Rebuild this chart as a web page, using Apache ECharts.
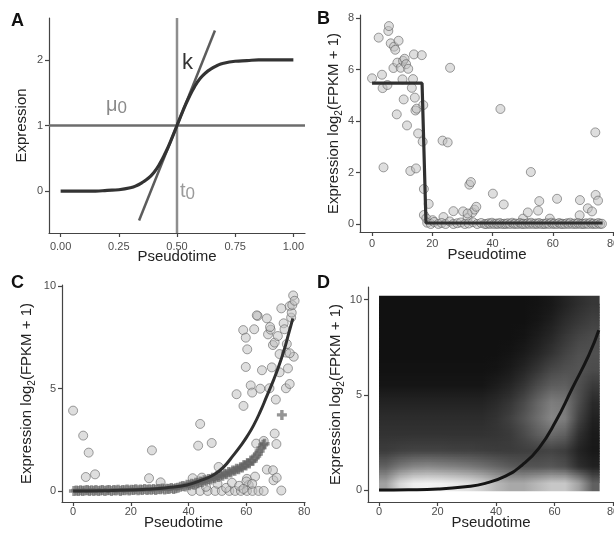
<!DOCTYPE html>
<html><head><meta charset="utf-8">
<script src="https://cdn.jsdelivr.net/npm/echarts@6/dist/echarts.min.js"></script>
<style>html,body{margin:0;padding:0;background:#fff}#c{width:614px;height:536px}</style>
</head><body><div id="c"></div>
<script>
// ---------- Panel A ----------
const aTicksX = [0, 0.25, 0.5, 0.75, 1];
const aTicksY = [0, 1, 2];
const aCurveX = [0,0.05,0.1,0.15,0.2,0.25,0.3,0.325,0.35,0.375,0.4,0.425,0.45,0.475,0.5,0.525,0.55,0.575,0.6,0.625,0.65,0.675,0.7,0.75,0.8,0.85,0.9,0.95,1];
const aCurveY = [0,0,0,0,0.01,0.02,0.05,0.08,0.13,0.19,0.28,0.41,0.58,0.78,1,1.22,1.42,1.59,1.72,1.81,1.87,1.92,1.95,1.98,1.99,2,2,2,2];
const aTangentX = [0.337, 0.663];
const aTangentY = [-0.45, 2.45];
const aMuX = [-0.05, 1.05];
const aMuY = [1, 1];
const aT0X = [0.5, 0.5];
const aT0Y = [-0.64, 2.64];

// ---------- Panel B ----------
const bTicksX = [0, 20, 40, 60, 80];
const bTicksY = [0, 2, 4, 6, 8];
const bX = [0,2.2,3.3,3.5,3.8,5.1,5.4,5.6,6.2,7.3,7.7,8.8,7.1,8.2,8.4,9.5,10.3,10.1,10.5,10.8,11.3,11.6,12,12.7,13.2,13.6,13.9,14.2,14.4,14.6,14.8,15.3,16.5,16.8,17,17.2,17.2,18.8,23.4,25.1,25.9,18,20.1,23.7,27,30.2,31.7,32.3,32.8,33.3,34,34.6,31.7,40.1,42.6,43.7,50.1,51.7,52.7,55.1,55.5,59,61.4,68.9,69,71.6,73,74.1,74.2,75,
  18.3,19.5,20.6,22.0,23.1,24.4,25.8,27.0,28.3,29.5,30.8,32.1,33.5,34.9,36.2,37.4,
  38.0,38.7,39.3,39.8,40.6,41.3,41.9,42.4,43.2,43.9,44.5,45.0,45.8,46.5,47.1,47.6,48.4,49.1,49.7,50.2,51.0,51.7,52.3,52.8,53.6,54.3,54.9,55.4,56.2,56.9,57.5,58.0,58.8,59.5,60.1,60.6,61.4,62.1,62.7,63.2,64.0,64.7,65.3,65.8,66.6,67.3,67.9,68.4,69.2,69.9,70.5,71.0,71.8,72.5,73.1,73.6,74.4,75.1,75.7,76.3];
const bY = [5.66,7.24,5.8,5.28,2.2,5.4,7.5,7.69,7.02,6.89,6.77,7.12,6.06,4.26,6.27,6.07,6.34,5.62,4.84,6.42,6.21,3.83,6.03,2.06,5.29,5.63,6.59,4.91,4.41,2.16,4.48,3.52,6.56,3.2,4.62,1.36,0.35,0.78,3.24,3.17,6.07,0.22,0.15,0.27,0.5,0.49,0.23,1.53,1.63,0.45,0.56,0.67,0.41,1.18,4.47,0.76,0.21,0.45,2.02,0.52,0.89,0.21,0.98,0.34,0.93,0.61,0.49,3.56,1.13,0.91,
  0.05,0,0.08,0,0.04,0,0.1,0,0.03,0.06,0,0.02,0.07,0,0.04,0,
  0,0.03,0,0.05,0,0.02,0,0.04,0,0.01,0,0.03,0,0.05,0,0.02,0,0.04,0,0.01,0,0.03,0,0.05,0,0.02,0,0.04,0,0.01,0,0.03,0,0.05,0,0.02,0,0.04,0,0.01,0,0.03,0,0.05,0,0.02,0,0.04,0,0.01,0,0.03,0,0.05,0,0.02,0,0.04,0,0.01];
const bStepX = [0, 16.6, 17.9, 76.5];
const bStepY = [5.47, 5.47, 0.04, 0.04];

// ---------- Panel C ----------
const cTicksX = [0, 20, 40, 60, 80];
const cTicksY = [0, 5, 10];
const cX = [0,3.5,5.4,4.4,7.6,27.3,26.3,30.3,44,43.3,48,41.4,44.6,50.4,56.6,58.9,59.8,60.3,59.8,59,61.5,62,62.7,63.9,65.4,64.8,67.1,67.5,68.4,68,68.8,69.2,69.8,69.8,70.4,70.2,70.9,71.5,72.1,72.9,73.2,73.8,74,74.4,73.7,75,75,75.5,75.7,75.9,76.2,76.7,76.4,75,71.5,67.1,69.2,69.4,70.5,72.1,60.2,60.8,63,60,63.4,66,
  41.2,44,46.6,49.2,51.5,54.1,56.1,58.1,60.2,62.1,64.2,66,42,46,50,53,55,57.5,59,62,68.2,63.6];
const cY = [3.92,2.7,1.87,0.68,0.81,1.98,0.62,0.42,3.27,2.21,2.34,0.62,0.65,1.17,4.72,7.85,7.48,6.91,6.05,4.15,5.15,4.8,7.89,8.54,5.89,4.99,8.42,7.64,7.87,5.01,6.03,7.12,7.24,2.8,2.29,4.46,7.56,6.68,8.91,8.18,7.89,6.75,7.17,5.98,5.01,5.22,9.02,8.46,8.7,9.07,9.54,9.28,6.55,6.72,5.79,1.04,1.01,0.52,0.65,0.02,0.59,0.29,0.7,0.46,2.31,2.44,
  0,0,0,0,0,0,0,0,0,0,0,0,0.3,0.2,0.35,0.15,0.4,0.25,0.1,0.35,8.0,8.57];
const cPlusX = [0.3,1.1,1.8,2.6,3.3,4.1,4.9,5.6,6.4,7.2,7.9,8.7,9.5,10.2,11.0,11.8,12.5,13.3,14.1,14.8,15.6,16.4,17.1,17.9,18.7,19.4,20.2,21.0,21.7,22.5,23.3,24.0,24.8,25.6,26.3,27.1,27.9,28.6,29.4,30.2,30.9,31.7,32.5,33.2,34.0,34.8,35.5,36.3,
  37.2,38.0,38.8,39.5,40.3,41.0,41.8,42.5,43.2,44.0,44.7,45.4,46.1,46.9,47.6,48.3,49.0,49.7,50.4,51.1,51.8,52.5,53.2,53.9,54.6,55.3,56.0,56.6,57.3,58.0,58.6,59.2,59.8,60.4,61.0,61.6,62.2,62.8,63.4,64.0,64.6,65.2,65.8,66.3,72.3];
const cPlusY = [0,0.02,0,0.03,0,0.02,0.04,0,0.03,0,0.05,0,0.02,0.04,0,0.03,0.05,0,0.04,0.02,0.06,0,0.05,0.03,0.07,0.02,0.06,0.04,0.08,0.03,0.07,0.05,0.09,0.04,0.08,0.06,0.1,0.05,0.09,0.08,0.12,0.07,0.11,0.1,0.14,0.09,0.13,0.16,
  0.2,0.24,0.22,0.3,0.28,0.35,0.33,0.4,0.38,0.46,0.44,0.52,0.5,0.58,0.56,0.64,0.62,0.7,0.68,0.76,0.74,0.84,0.82,0.92,0.9,1.0,0.98,1.08,1.06,1.16,1.14,1.26,1.24,1.36,1.34,1.48,1.46,1.6,1.7,1.8,1.95,2.1,2.25,2.3,3.71];
const cCurveX = [0,10,20,25.6,32.5,39.4,44,48.6,52,55.6,58,60.2,62.5,64.8,67,69.4,71,72.9,74.5,76.1];
const cCurveY = [0,0.01,0.04,0.08,0.16,0.29,0.5,0.78,1.15,1.76,2.2,2.65,3.2,3.87,4.6,5.41,6.0,6.8,7.6,8.42];

// ---------- Panel D ----------
const dTicksX = [0, 20, 40, 60, 80];
const dTicksY = [0, 5, 10];
const dCurveX = [0,10,20.3,29.5,36.3,43.2,48.9,54.6,60.3,66,71.7,75.1];
const dCurveY = [0,0.01,0.05,0.17,0.35,0.73,1.31,2.19,3.58,5.33,7.08,8.39];
// density grid: column centres (pseudotime), row centres (expression), extent
const dColX = [2.4,7.1,11.8,16.5,21.2,25.9,30.6,35.3,40.1,44.8,49.5,54.2,58.9,63.6,68.3,73.0];
const dRowY = [0.43,1.28,2.13,2.98,3.83,4.68,5.53,6.38,7.23,8.08,8.93,9.78];
const dExtentX = [0, 75.4];
const dExtentY = [0, 10.2];
// relative density (0 = black, 100 = white); rows listed from top (y = 9.78) to bottom (y = 0.43)
const dDensity = [
  [0,0,0,0,0,0,0,0,0,0,0,1,3,8,13,17],
  [0,0,0,0,0,0,0,0,0,0,0,2,6,12,17,21],
  [0,0,0,0,0,0,0,0,0,0,1.3,5,10,17,23,26],
  [0,0,0,0,0,0,0,0,0,1.3,4,9,15,22,28,28],
  [0.4,0.4,0.4,0.4,0.4,0.4,0.4,0.4,1.3,4,9,16,24,28,30,26],
  [2,2,2,2,2,2,2,2,5,9,16,26,34,35,28,18],
  [8,8,8,8,8,8,8,8,11,16,25,37,48,45,27,11],
  [12,12,12,12,12,12,12,12,15,21,30,41,52,48,22,7],
  [15,15,15,15,15,15,15,15,16,18,25,34,40,35,14,4],
  [19,21,22,22,22,21,21,20,19,19,20,21,22,19,8,3],
  [36,46,52,54,52,50,47,43,38,33,30,30,31,27,13,7],
  [64,88,98,100,99,96,92,85,74,67,67,74,81,81,64,35]
];

const FONT = 'Liberation Sans, Arial, Helvetica, sans-serif';
const zip = (xs, ys) => xs.map((x, i) => [x, ys[i]]);

function vAxis(grid, min, max, ticks, fmt, name, gap, margin) {
  return {
    gridIndex: grid, type: 'value', min: min, max: max,
    name: name, nameLocation: 'middle', nameGap: gap, nameMoveOverlap: false,
    nameTextStyle: name.indexOf('{') === 0 ? {
      rich: {
        a: {fontSize: 15, color: '#222', fontFamily: FONT, lineHeight: 20},
        s: {fontSize: 10, color: '#222', fontFamily: FONT, lineHeight: 10, verticalAlign: 'bottom'}
      }
    } : {fontSize: 15, color: '#222', fontFamily: FONT},
    axisLine: {show: true, onZero: false, lineStyle: {color: '#444', width: 1.2}},
    axisTick: {show: true, length: 4, customValues: ticks, lineStyle: {color: '#444', width: 1.2}},
    axisLabel: {customValues: ticks, formatter: fmt, color: '#4d4d4d', fontSize: 11, fontFamily: FONT, margin: margin},
    splitLine: {show: false}
  };
}
const yName = '{a|Expression log}{s|2}{a|(FPKM + 1)}';
const fmt2 = v => Number(v).toFixed(2);
const fmt0 = v => String(Math.round(v));

// density rows bottom-up for rendering
const densityUp = dDensity.slice().reverse();
const grayOf = v => { const g = Math.round(17 + Math.max(0, Math.min(100, v)) * 2.25); return 'rgb(' + g + ',' + g + ',' + g + ')'; };
function densityRender(params, api) {
  const r = api.value(2);
  const n = dRowY.length;
  const x0 = api.coord([dExtentX[0], dExtentY[0]])[0];
  const x1 = api.coord([dExtentX[1], dExtentY[0]])[0];
  const offs = dColX.map(x => (api.coord([x, dExtentY[0]])[0] - x0) / (x1 - x0));
  const stripe = (yLoData, yHiData, vals) => {
    const yb = api.coord([dExtentX[0], yLoData])[1];
    const yt = api.coord([dExtentX[0], yHiData])[1];
    return {
      type: 'rect', silent: true,
      shape: {x: x0, y: yt, width: x1 - x0, height: yb - yt + 1.2},
      style: {fill: new echarts.graphic.LinearGradient(x0, 0, x1, 0,
        vals.map((v, c) => ({offset: offs[c], color: grayOf(v)})), true)}
    };
  };
  const children = [];
  const rowA = densityUp[r];
  if (r === 0) children.push(stripe(dExtentY[0], dRowY[0], rowA));
  if (r < n - 1) {
    const rowB = densityUp[r + 1];
    const K = 10;
    for (let k = 0; k < K; k++) {
      const t = (k + 0.5) / K;
      const ya = dRowY[r] + (dRowY[r + 1] - dRowY[r]) * k / K;
      const yb = dRowY[r] + (dRowY[r + 1] - dRowY[r]) * (k + 1) / K;
      children.push(stripe(ya, yb, rowA.map((v, c) => v + (rowB[c] - v) * t)));
    }
  } else {
    children.push(stripe(dRowY[r], dExtentY[1], rowA));
  }
  return {type: 'group', children: children};
}

const circleStyle = {color: 'rgba(192,192,192,0.65)', borderColor: 'rgba(85,85,85,0.7)', borderWidth: 1};
const plusPath = 'path://M3.3,0H6.7V3.3H10V6.7H6.7V10H3.3V6.7H0V3.3H3.3Z';

const option = {
  animation: false,
  backgroundColor: '#fff',
  textStyle: {fontFamily: FONT},
  grid: [
    {left: 49, top: 18, width: 256, height: 215, outerBoundsMode: 'none', containLabel: false},
    {left: 360, top: 15, width: 254, height: 217, outerBoundsMode: 'none', containLabel: false},
    {left: 62, top: 285, width: 243, height: 217, outerBoundsMode: 'none', containLabel: false},
    {left: 368, top: 287, width: 246, height: 215, outerBoundsMode: 'none', containLabel: false}
  ],
  xAxis: [
    vAxis(0, -0.05, 1.05, aTicksX, fmt2, 'Pseudotime', 16, 8),
    vAxis(1, -4, 80.3, bTicksX, fmt0, 'Pseudotime', 15, 6),
    vAxis(2, -3.84, 80.3, cTicksX, fmt0, 'Pseudotime', 13, 4),
    vAxis(3, -3.77, 80.3, dTicksX, fmt0, 'Pseudotime', 13, 4)
  ],
  yAxis: [
    vAxis(0, -0.64, 2.64, aTicksY, fmt0, 'Expression', 20, 6),
    vAxis(1, -0.31, 8.12, bTicksY, fmt0, yName, 16, 6),
    vAxis(2, -0.54, 10.05, cTicksY, fmt0, yName, 25, 6),
    vAxis(3, -0.63, 10.66, dTicksY, fmt0, yName, 22, 6)
  ],
  series: [
    // D density
    {type: 'custom', xAxisIndex: 3, yAxisIndex: 3, renderItem: densityRender,
      data: dRowY.map((y, r) => [dExtentX[0], y, r]), silent: true, z: 1},
    // A
    {type: 'line', xAxisIndex: 0, yAxisIndex: 0, data: zip(aMuX, aMuY), symbol: 'none',
      lineStyle: {color: '#6c6c6c', width: 2.5}},
    {type: 'line', xAxisIndex: 0, yAxisIndex: 0, data: zip(aT0X, aT0Y), symbol: 'none',
      lineStyle: {color: '#8e8e8e', width: 2.5}},
    {type: 'line', xAxisIndex: 0, yAxisIndex: 0, data: zip(aTangentX, aTangentY), symbol: 'none',
      lineStyle: {color: '#5c5c5c', width: 2.5}},
    {type: 'line', xAxisIndex: 0, yAxisIndex: 0, data: zip(aCurveX, aCurveY), symbol: 'none', smooth: true,
      lineStyle: {color: '#333', width: 3.2}},
    // B
    {type: 'scatter', xAxisIndex: 1, yAxisIndex: 1, data: zip(bX, bY), symbolSize: 9, itemStyle: circleStyle},
    {type: 'line', xAxisIndex: 1, yAxisIndex: 1, data: zip(bStepX, bStepY), symbol: 'none',
      lineStyle: {color: '#303030', width: 3.2}, z: 5},
    // C
    {type: 'scatter', xAxisIndex: 2, yAxisIndex: 2, data: zip(cX, cY), symbolSize: 9, itemStyle: circleStyle},
    {type: 'scatter', xAxisIndex: 2, yAxisIndex: 2, data: zip(cPlusX, cPlusY), symbol: plusPath, symbolSize: 10,
      itemStyle: {color: 'rgba(100,100,100,0.85)'}},
    {type: 'line', xAxisIndex: 2, yAxisIndex: 2, data: zip(cCurveX, cCurveY), symbol: 'none', smooth: true,
      lineStyle: {color: '#303030', width: 3}, z: 5},
    // D curve
    {type: 'line', xAxisIndex: 3, yAxisIndex: 3, data: zip(dCurveX, dCurveY), symbol: 'none', smooth: true,
      lineStyle: {color: '#151515', width: 3}, z: 5}
  ],
  graphic: [
    {type: 'text', left: 11, top: 12, style: {text: 'A', font: 'bold 18px ' + FONT, fill: '#111'}},
    {type: 'text', left: 317, top: 10, style: {text: 'B', font: 'bold 18px ' + FONT, fill: '#111'}},
    {type: 'text', left: 11, top: 274, style: {text: 'C', font: 'bold 18px ' + FONT, fill: '#111'}},
    {type: 'text', left: 317, top: 274, style: {text: 'D', font: 'bold 18px ' + FONT, fill: '#111'}},
    {type: 'text', left: 106, top: 95, style: {text: '{m|μ}{s|0}', rich: {
      m: {fontSize: 20, fill: '#8a8a8a', fontFamily: FONT, lineHeight: 24},
      s: {fontSize: 17, fill: '#8a8a8a', fontFamily: FONT, lineHeight: 17, verticalAlign: 'bottom'}}}},
    {type: 'text', left: 182, top: 52, style: {text: 'k', font: '22px ' + FONT, fill: '#333'}},
    {type: 'text', left: 180, top: 181, style: {text: '{m|t}{s|0}', rich: {
      m: {fontSize: 20, fill: '#9a9a9a', fontFamily: FONT, lineHeight: 24},
      s: {fontSize: 17, fill: '#9a9a9a', fontFamily: FONT, lineHeight: 17, verticalAlign: 'bottom'}}}}
  ]
};

const chart = echarts.init(document.getElementById('c'), null, {renderer: 'canvas'});
chart.setOption(option);
</script>
</body></html>
